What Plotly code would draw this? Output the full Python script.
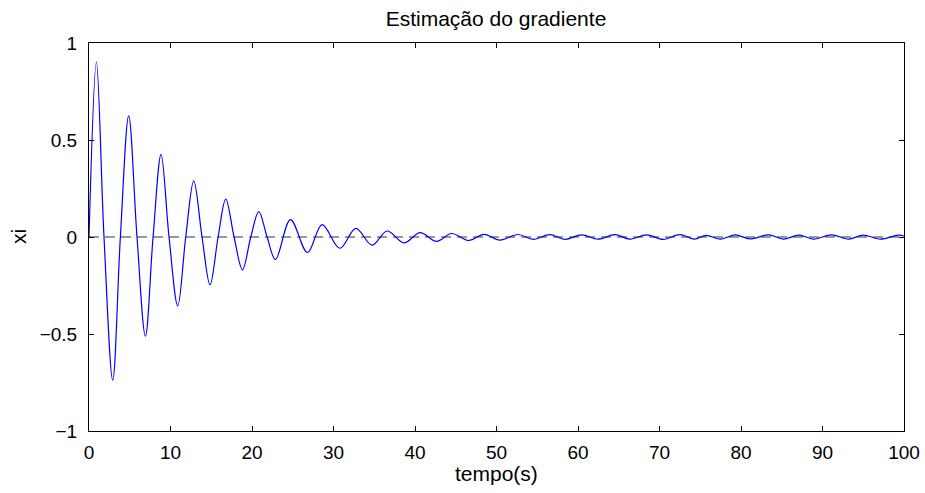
import plotly.graph_objects as go

# Values (extrema and zero crossings)
tempo = [0, 0.91, 1.84, 2.91, 3.85, 4.87, 5.89, 6.92, 7.86, 8.84,
         9.82, 10.89, 11.87, 12.85, 13.87, 14.85, 15.84, 16.78, 17.8, 18.83,
         19.85, 20.83, 21.85, 22.88, 24.72, 26.81, 28.6, 30.77, 32.74, 34.74,
         36.58, 38.66, 40.63, 42.64, 44.48, 46.6, 48.48, 50.4, 52.66, 54.5,
         56.55, 58.4, 60.44, 62.48, 64.53, 66.37, 68.42, 70.46, 72.5, 74.3,
         75.7, 77.5, 79.3, 81.1, 83.4, 85.2, 87.1, 88.9, 91.1, 93.2,
         95.0, 97.1, 99.3, 100]
xi = [0, 0.902, 0, -0.738, 0, 0.624, 0, -0.511, 0, 0.426,
      0, -0.355, 0, 0.289, 0, -0.247, 0, 0.195, 0, -0.169,
      0, 0.131, 0, -0.116, 0.09, -0.08, 0.064, -0.058, 0.044, -0.042,
      0.031, -0.03, 0.023, -0.023, 0.018, -0.018, 0.014, -0.016, 0.013, -0.012,
      0.012, -0.012, 0.011, -0.011, 0.012, -0.011, 0.011, -0.012, 0.012, -0.011,
      0.008, -0.011, 0.011, -0.010, 0.011, -0.011, 0.010, -0.011, 0.011, -0.011,
      0.010, -0.011, 0.010, 0.005]

ref_t = [0, 100]
ref_v = [0, 0]

x_ticks = [0, 10, 20, 30, 40, 50, 60, 70, 80, 90, 100]
y_ticks = [-1, -0.5, 0, 0.5, 1]

FONT = "Liberation Sans, Arial, Helvetica, sans-serif"
W, H = 925, 493

fig = go.Figure()
fig.add_trace(go.Scatter(x=ref_t, y=ref_v, mode="lines",
                         line=dict(color="#333333", width=1, dash="10px,6px"),
                         showlegend=False, hoverinfo="skip"))
fig.add_trace(go.Scatter(x=tempo, y=xi, mode="lines",
                         line=dict(color="#0000ff", width=1.2, shape="spline", smoothing=1.0),
                         showlegend=False))

axis_common = dict(showline=True, linecolor="black", linewidth=1, mirror="allticks",
                   ticks="inside", ticklen=5, tickcolor="black", tickwidth=1,
                   showgrid=False, zeroline=False, automargin=False,
                   tickfont=dict(family=FONT, size=19, color="black"))

fig.update_layout(
    width=W, height=H,
    margin=dict(l=89, r=21, t=43, b=62),
    paper_bgcolor="white", plot_bgcolor="white",
    title=dict(text="Estimação do gradiente", x=496 / W, xanchor="center",
               y=1 - 19 / H, yanchor="middle", yref="container",
               font=dict(family=FONT, size=21, color="black")),
    xaxis=dict(range=[0, 100], tickvals=x_ticks, ticklabelstandoff=4, **axis_common),
    yaxis=dict(range=[-1, 1], tickvals=y_ticks, ticklabelstandoff=7, **axis_common),
    annotations=[
        dict(text="tempo(s)", xref="paper", yref="paper", x=0.5, y=-(473 - 431) / (431 - 43),
             xanchor="center", yanchor="middle", showarrow=False,
             font=dict(family=FONT, size=21, color="black")),
        dict(text="xi", xref="paper", yref="paper", x=-(89 - 18) / (904 - 89), y=0.5,
             xanchor="center", yanchor="middle", textangle=-90, showarrow=False,
             font=dict(family=FONT, size=21, color="black")),
    ],
)

fig.write_html("out.html")
